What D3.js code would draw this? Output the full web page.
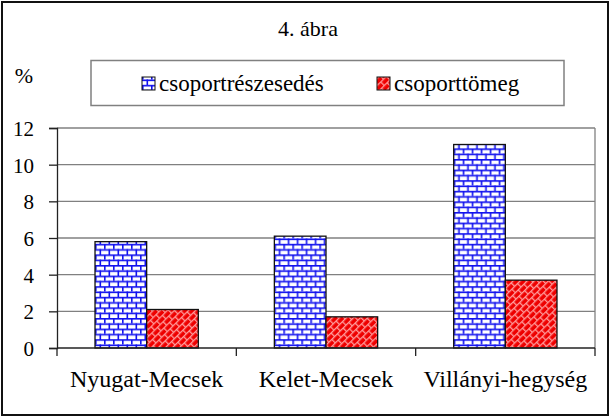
<!DOCTYPE html>
<html><head><meta charset="utf-8">
<script src="https://cdn.jsdelivr.net/npm/d3@7"></script>
</head><body style="margin:0">
<svg id="c" width="611" height="418" font-family="Liberation Serif" style="font-family:'Liberation Serif'"></svg>
<script>
const categories = ["Nyugat-Mecsek", "Kelet-Mecsek", "Villányi-hegység"];
const seriesNames = ["csoportrészesedés", "csoporttömeg"];
const reszesedes = [5.8, 6.1, 11.1];
const tomeg = [2.1, 1.7, 3.7];
const yTicks = [0, 2, 4, 6, 8, 10, 12];
const title = "4. ábra";
const yUnit = "%";

const svg = d3.select("#c");
const W = 611, H = 418;
const m = {left: 57, right: 595, top: 128, bottom: 348};
function serif(sel){ return sel.attr("font-family","Liberation Serif").style("font-family","Liberation Serif"); }

const defs = svg.append("defs");
const pb = defs.append("pattern").attr("id","brick").attr("patternUnits","userSpaceOnUse")
  .attr("width",9).attr("height",10.6);
pb.append("rect").attr("width",9).attr("height",10.6).attr("fill","#fff");
pb.append("rect").attr("x",0).attr("y",0).attr("width",9).attr("height",1.6).attr("fill","#1010ee");
pb.append("rect").attr("x",0).attr("y",5.3).attr("width",9).attr("height",1.6).attr("fill","#1010ee");
pb.append("rect").attr("x",0).attr("y",0).attr("width",1.6).attr("height",5.3).attr("fill","#1010ee");
pb.append("rect").attr("x",4.5).attr("y",5.3).attr("width",1.6).attr("height",5.3).attr("fill","#1010ee");
const pr = defs.append("pattern").attr("id","dbrick").attr("patternUnits","userSpaceOnUse")
  .attr("width",8).attr("height",10).attr("patternTransform","rotate(-45)");
pr.append("rect").attr("width",8).attr("height",10).attr("fill","#ee0000");
pr.append("rect").attr("x",0).attr("y",0).attr("width",8).attr("height",1.3).attr("fill","#ff9a9a");
pr.append("rect").attr("x",0).attr("y",5).attr("width",8).attr("height",1.3).attr("fill","#ff9a9a");
pr.append("rect").attr("x",0).attr("y",0).attr("width",1.3).attr("height",5).attr("fill","#ff9a9a");
pr.append("rect").attr("x",4).attr("y",5).attr("width",1.3).attr("height",5).attr("fill","#ff9a9a");

svg.append("rect").attr("x",0).attr("y",0).attr("width",W).attr("height",H).attr("fill","#fff");
svg.append("rect").attr("x",2).attr("y",2).attr("width",W-5).attr("height",H-5)
  .attr("fill","none").attr("stroke","#111").attr("stroke-width",2);

const y = d3.scaleLinear().domain([0,12]).range([m.bottom, m.top]);
const x0 = d3.scaleBand().domain(categories).range([m.left, m.right]).paddingInner(0.424).paddingOuter(0.212);
const x1 = d3.scaleBand().domain(seriesNames).range([0, x0.bandwidth()]).padding(0);

svg.append("g").selectAll("line").data(yTicks.filter(d=>d>0)).join("line")
  .attr("x1",m.left).attr("x2",m.right).attr("y1",d=>y(d)).attr("y2",d=>y(d))
  .attr("stroke","#808080").attr("stroke-width",1.3);
svg.append("line").attr("x1",m.right).attr("x2",m.right).attr("y1",m.top).attr("y2",m.bottom)
  .attr("stroke","#808080").attr("stroke-width",1.3);

const ya = svg.append("g").attr("transform",`translate(${m.left},0)`)
  .call(d3.axisLeft(y).tickValues(yTicks).tickSize(8).tickPadding(15).tickFormat(d3.format("d")));
serif(ya).attr("font-size", 21);
ya.select(".domain").attr("stroke","#222").attr("stroke-width",1.3);
ya.selectAll(".tick line").attr("stroke","#222").attr("stroke-width",1.3);
serif(ya.selectAll(".tick text")).attr("font-size",21).attr("dy","0.35em").attr("fill","#000");

const data = categories.map((c,i)=>({c, v:[{s:seriesNames[0],v:reszesedes[i]},{s:seriesNames[1],v:tomeg[i]}]}));
const g = svg.append("g");
g.selectAll("g").data(data).join("g").attr("transform",d=>`translate(${x0(d.c)},0)`)
  .selectAll("rect").data(d=>d.v).join("rect")
  .attr("x",d=>x1(d.s)).attr("width",x1.bandwidth())
  .attr("y",d=>y(d.v)).attr("height",d=>y(0)-y(d.v))
  .attr("fill",d=>d.s===seriesNames[0]?"url(#brick)":"url(#dbrick)")
  .attr("stroke","#111").attr("stroke-width",1.3);

const step = x0.step();
const bounds = d3.range(categories.length+1).map(i=>m.left + i*step);
svg.append("line").attr("x1",m.left).attr("x2",m.right).attr("y1",m.bottom).attr("y2",m.bottom)
  .attr("stroke","#222").attr("stroke-width",1.3);
svg.append("g").selectAll("line").data(bounds).join("line")
  .attr("x1",d=>d).attr("x2",d=>d).attr("y1",m.bottom).attr("y2",m.bottom+8)
  .attr("stroke","#222").attr("stroke-width",1.3);
serif(svg.append("g").selectAll("text").data(categories).join("text"))
  .attr("x",d=>x0(d)+x0.bandwidth()/2).attr("y",387).attr("text-anchor","middle")
  .attr("font-size",24).text(d=>d);

serif(svg.append("text")).attr("x",308).attr("y",36).attr("text-anchor","middle")
  .attr("font-size",22).text(title);
serif(svg.append("text")).attr("x",24).attr("y",83).attr("text-anchor","middle")
  .attr("font-size",22).text(yUnit);

svg.append("rect").attr("x",91).attr("y",60.5).attr("width",473).attr("height",45)
  .attr("fill","#fff").attr("stroke","#808080").attr("stroke-width",1.5);
const legX = [142, 377];
const lg = svg.append("g").selectAll("g").data(seriesNames).join("g")
  .attr("transform",(d,i)=>`translate(${legX[i]},0)`);
lg.append("rect").attr("x",0).attr("y",77).attr("width",13).attr("height",13)
  .attr("fill",(d,i)=>i===0?"url(#brick)":"url(#dbrick)").attr("stroke","#111").attr("stroke-width",1);
serif(lg.append("text")).attr("x",17).attr("y",91).attr("font-size",23).text(d=>d);
</script></body></html>
